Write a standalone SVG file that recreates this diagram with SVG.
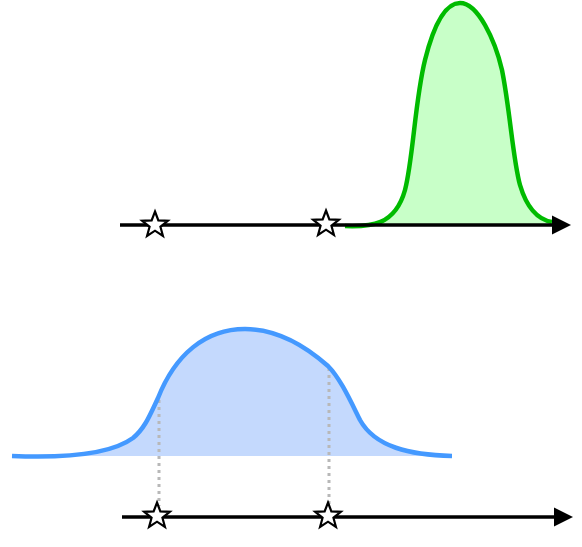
<svg xmlns="http://www.w3.org/2000/svg" width="582" height="547" viewBox="0 0 582 547">
<style>
.axis{stroke:#000;stroke-width:3.5;fill:none}
.head{fill:#000;stroke:none}
.star{fill:#fff;stroke:#000;stroke-width:2.2;stroke-linejoin:miter}
.dot{stroke:#b8b8b8;stroke-width:3;stroke-dasharray:3 4;fill:none}
</style>
<defs>
<path id="st" d="M0,-13.5 L3.35,-4.6 L12.84,-4.17 L5.43,1.77 L7.94,10.92 L0,5.7 L-7.94,10.92 L-5.43,1.77 L-12.84,-4.17 L-3.35,-4.6 Z"/>
</defs>
<g id="green-curve">
<path d="M345,226 C370,227 395,226 405,190 C413,160 415,100 425,60 C435,20 447,3 460,3 C478,3 495,40 502,70 C510,110 513,160 520,185 C528,212 540,220 552,222 L552,226 Z" fill="#c8ffc8" stroke="none"/>
<path d="M345,226 C370,227 395,226 405,190 C413,160 415,100 425,60 C435,20 447,3 460,3 C478,3 495,40 502,70 C510,110 513,160 520,185 C528,212 540,220 552,222" fill="none" stroke="#00bb00" stroke-width="4.5"/>
</g>
<g id="blue-curve">
<path d="M12,456 C60,458 110,455 133,438 C145,428 150,415 158,398 C175,355 205,329 245,329 C280,329 310,350 328,366 C340,378 350,400 360,420 C375,447 410,455 452,456 Z" fill="#c4d9fd" stroke="none"/>
</g>
<g id="connectors">
<line class="dot" x1="159" y1="400" x2="159" y2="506"/>
<line class="dot" x1="329" y1="368" x2="329" y2="506"/>
<line class="axis" x1="120" y1="225" x2="555" y2="225"/>
<polygon class="head" points="552,215.5 571,225 552,234.5"/>
<line class="axis" x1="122" y1="517" x2="557" y2="517"/>
<polygon class="head" points="554,507.5 573,517 554,526.5"/>
</g>
<g id="blue-stroke">
<path d="M12,456 C60,458 110,455 133,438 C145,428 150,415 158,398 C175,355 205,329 245,329 C280,329 310,350 328,366 C340,378 350,400 360,420 C375,447 410,455 452,456" fill="none" stroke="#4499ff" stroke-width="4.5"/>
</g>
<g id="stars">
<use href="#st" class="star" transform="translate(155,225)"/>
<use href="#st" class="star" transform="translate(326,224)"/>
<use href="#st" class="star" transform="translate(157,516)"/>
<use href="#st" class="star" transform="translate(328,516)"/>
</g>
</svg>
